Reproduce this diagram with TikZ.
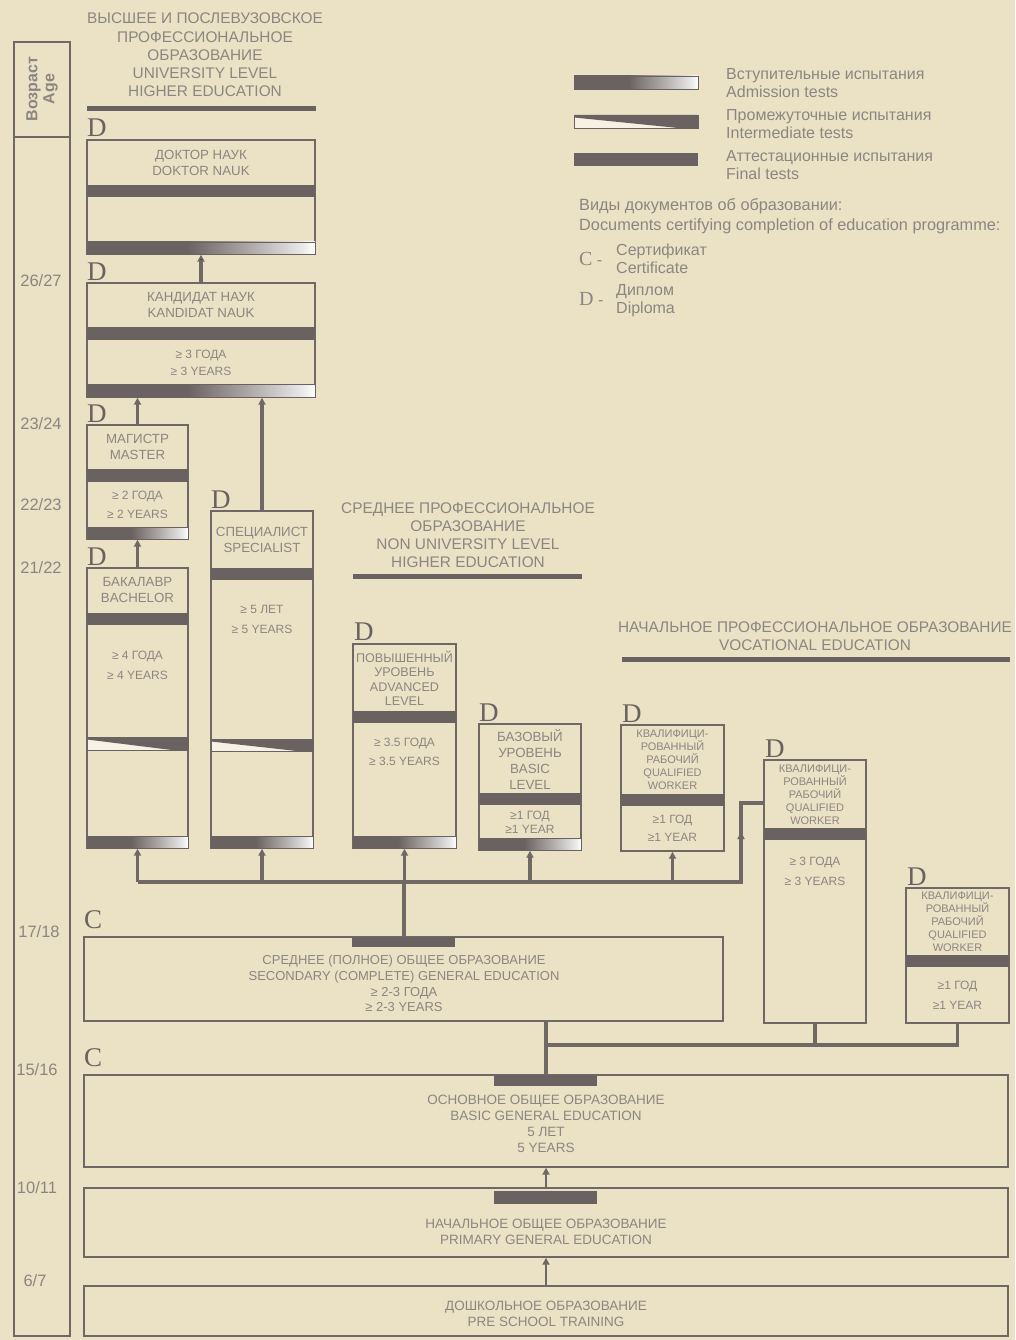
\documentclass[tikz,border=0pt]{standalone}
\usepackage{fontspec}
\setmainfont{Liberation Sans}
\newfontfamily\dipfont{Liberation Serif}
\usetikzlibrary{arrows.meta,calc}
\definecolor{bgc}{RGB}{235,225,196}
\definecolor{barc}{RGB}{106,98,96}
\definecolor{linec}{RGB}{112,104,100}
\definecolor{txtc}{RGB}{140,134,130}
\pgfdeclarehorizontalshading{admit}{100bp}{color(0bp)=(barc); color(25bp)=(barc); color(47bp)=(barc); color(62bp)=(barc!50!white); color(72bp)=(barc!15!white); color(75bp)=(white); color(100bp)=(white)}
% test bars
\newcommand{\finbar}[4]{\fill[barc] (#1,#2) rectangle (#3,#4);}
\newcommand{\admbar}[4]{\shade[shading=admit] (#1,#2) rectangle (#3,#4); \draw[barc,line width=0.8pt] (#1,#2) rectangle (#3,#4);}
\newcommand{\intbar}[4]{\fill[white!55!bgc] (#1,#2) rectangle (#3,#4); \fill[barc] (#1,#2) -- (#3,#2) -- (#3,#4) -- ({#1+0.84*(#3-#1)},#4) -- (#1,{#2+2.5}) -- cycle; \draw[barc,line width=0.8pt] (#1,#2) rectangle (#3,#4);}

\begin{document}
\begin{tikzpicture}[x=1pt, y=-1pt, >={Triangle[width=7pt,length=7pt]},
  box/.style={draw=linec, line width=1.4pt, inner sep=0pt},
  lbl/.style={text=txtc, align=center, inner sep=0pt},
  head/.style={lbl, font=\fontsize{15.4}{18.2}\selectfont},
  ttl/.style={lbl, font=\fontsize{13.3}{16}\selectfont},
  dur/.style={lbl, font=\fontsize{12}{19}\selectfont},
  qw/.style={lbl, font=\fontsize{11}{12.9}\selectfont},
  legend/.style={lbl, align=left, anchor=west, font=\fontsize{16}{18}\selectfont},
  dip/.style={text=barc, inner sep=0pt, anchor=base west, font=\dipfont\fontsize{27}{27}\selectfont},
  age/.style={lbl, font=\fontsize{16.5}{18}\selectfont},
  rule/.style={draw=barc, line width=5pt},
  link/.style={draw=linec, line width=3.2pt}]
\fill[bgc] (0,0) rectangle (1015,1340);
\useasboundingbox (0,0) rectangle (1015,1340);

% age column
\draw[linec, line width=1.2pt] (14,42) rectangle (70,1336);
\draw[linec, line width=1.2pt] (14,137) -- (70,137);
\draw (42,89) node[lbl, rotate=90, font=\bfseries\fontsize{16}{17}\selectfont] (agehd) {Возраст\\Age};
\draw (41,281) node[age] (a1) {26/27};
\draw (41,424) node[age] (a2) {23/24};
\draw (41,505) node[age] (a3) {22/23};
\draw (41,568) node[age] (a4) {21/22};
\draw (39,932) node[age] (a5) {17/18};
\draw (37,1070) node[age] (a6) {15/16};
\draw (37,1188) node[age] (a7) {10/11};
\draw (35,1281) node[age] (a8) {6/7};

% headings
\draw (205,55) node[head] (hiedu) {ВЫСШЕЕ И ПОСЛЕВУЗОВСКОЕ\\ПРОФЕССИОНАЛЬНОЕ\\ОБРАЗОВАНИЕ\\UNIVERSITY LEVEL\\HIGHER EDUCATION};
\draw[rule] (87,109) -- (316,109);
\draw (468,535) node[head] (nonuni) {СРЕДНЕЕ ПРОФЕССИОНАЛЬНОЕ\\ОБРАЗОВАНИЕ\\NON UNIVERSITY LEVEL\\HIGHER EDUCATION};
\draw[rule] (353,576) -- (582,576);
\draw (815,636) node[head] (voc) {НАЧАЛЬНОЕ ПРОФЕССИОНАЛЬНОЕ ОБРАЗОВАНИЕ\\VOCATIONAL EDUCATION};
\draw[rule] (622,659) -- (1010,659);

% legend
\admbar{574}{76}{698}{89}
\intbar{574}{115}{698}{128}
\finbar{574}{153}{698}{166}
\draw (726,83) node[legend] (lgadm) {Вступительные испытания\\Admission tests};
\draw (726,124) node[legend] (lgint) {Промежуточные испытания\\Intermediate tests};
\draw (726,165) node[legend] (lgfin) {Аттестационные испытания\\Final tests};
\draw (579,216) node[legend, font=\fontsize{16.3}{20}\selectfont] (lgdoc) {Виды документов об образовании:\\Documents certifying completion of education programme:};
\draw (579,259) node[legend] (lgC) {{\dipfont\fontsize{20}{20}\selectfont C} -};
\draw (616,259) node[legend] (lgCt) {Сертификат\\Certificate};
\draw (579,299) node[legend] (lgD) {{\dipfont\fontsize{20}{20}\selectfont D} -};
\draw (616,301) node[legend] (lgDt) {Диплом\\Diploma};

% university level
\draw (201,197) node[box, minimum width=228pt, minimum height=114pt] (doctor) {};
\draw (201,340) node[box, minimum width=228pt, minimum height=114pt] (kand) {};
\draw (137.5,482) node[box, minimum width=101pt, minimum height=114pt] (master) {};
\draw (137.5,708) node[box, minimum width=101pt, minimum height=280pt] (bachelor) {};
\draw (262,679.5) node[box, minimum width=102pt, minimum height=337pt] (spec) {};
\finbar{87}{185}{315}{197} \admbar{87}{242}{315}{254}
\finbar{87}{327}{315}{340} \admbar{87}{384}{315}{397}
\finbar{87}{469}{188}{482} \admbar{87}{527}{188}{539}
\finbar{87}{613}{188}{625} \intbar{87}{737}{188}{750} \admbar{87}{836}{188}{848}
\finbar{211}{568}{313}{580} \intbar{211}{739}{313}{751} \admbar{211}{836}{313}{848}
\draw (87,137) node[dip] (dDoc) {D};
\draw (87,280) node[dip] (dKand) {D};
\draw (87,422) node[dip] (dMas) {D};
\draw (87,565) node[dip] (dBach) {D};
\draw (211,508) node[dip] (dSpec) {D};
\draw (201,163) node[ttl] (doctorT) {ДОКТОР НАУК\\DOKTOR NAUK};
\draw (201,305) node[ttl] (kandT) {КАНДИДАТ НАУК\\KANDIDAT NAUK};
\draw (201,362.5) node[dur, font=\fontsize{12}{17}\selectfont] (kandY) {≥ 3 ГОДА\\≥ 3 YEARS};
\draw (137.5,447) node[ttl] (masterT) {МАГИСТР\\MASTER};
\draw (137.5,504.5) node[dur] (masterY) {≥ 2 ГОДА\\≥ 2 YEARS};
\draw (137.5,590) node[ttl] (bachT) {БАКАЛАВР\\BACHELOR};
\draw (137.5,665) node[dur, font=\fontsize{12}{20}\selectfont] (bachY) {≥ 4 ГОДА\\≥ 4 YEARS};
\draw (262,540) node[ttl] (specT) {СПЕЦИАЛИСТ\\SPECIALIST};
\draw (262,619) node[dur, font=\fontsize{12}{20}\selectfont] (specY) {≥ 5 ЛЕТ\\≥ 5 YEARS};

% non university level
\draw (404.5,746) node[box, minimum width=103pt, minimum height=204pt] (adv) {};
\draw (530,787) node[box, minimum width=102pt, minimum height=126pt] (basic) {};
\finbar{353}{711}{456}{723} \admbar{353}{836}{456}{848}
\finbar{479}{793}{581}{805} \admbar{479}{838}{581}{850}
\draw (354,640) node[dip] (dAdv) {D};
\draw (479,721) node[dip] (dBas) {D};
\draw (404.5,678.5) node[ttl, font=\fontsize{12.6}{14.5}\selectfont] (advT) {ПОВЫШЕННЫЙ\\УРОВЕНЬ\\ADVANCED\\LEVEL};
\draw (404.5,751.5) node[dur] (advY) {≥ 3.5 ГОДА\\≥ 3.5 YEARS};
\draw (530,759) node[ttl] (basicT) {БАЗОВЫЙ\\УРОВЕНЬ\\BASIC\\LEVEL};
\draw (530,822) node[dur, font=\fontsize{12}{14}\selectfont] (basicY) {≥1 ГОД\\≥1 YEAR};

% vocational
\draw (672.5,788) node[box, minimum width=103pt, minimum height=126pt] (qwA) {};
\draw (815,891.5) node[box, minimum width=102pt, minimum height=263pt] (qwB) {};
\draw (957.5,955.5) node[box, minimum width=103pt, minimum height=135pt] (qwC) {};
\finbar{621}{794}{724}{806}
\finbar{764}{828}{866}{840}
\finbar{906}{955}{1009}{967}
\draw (622,722) node[dip] (dQwA) {D};
\draw (765,757) node[dip] (dQwB) {D};
\draw (907,885) node[dip] (dQwC) {D};
\draw (672.5,759.5) node[qw] (qwAT) {КВАЛИФИЦИ-\\РОВАННЫЙ\\РАБОЧИЙ\\QUALIFIED\\WORKER};
\draw (672.5,828) node[dur, font=\fontsize{12}{18}\selectfont] (qwAY) {≥1 ГОД\\≥1 YEAR};
\draw (815,795) node[qw] (qwBT) {КВАЛИФИЦИ-\\РОВАННЫЙ\\РАБОЧИЙ\\QUALIFIED\\WORKER};
\draw (815,871) node[dur, font=\fontsize{12}{20}\selectfont] (qwBY) {≥ 3 ГОДА\\≥ 3 YEARS};
\draw (957.5,922) node[qw] (qwCT) {КВАЛИФИЦИ-\\РОВАННЫЙ\\РАБОЧИЙ\\QUALIFIED\\WORKER};
\draw (957.5,995) node[dur, font=\fontsize{12}{20}\selectfont] (qwCY) {≥1 ГОД\\≥1 YEAR};

% general education
\draw (403.5,979) node[box, minimum width=639pt, minimum height=84pt] (second) {};
\draw (546,1121) node[box, minimum width=924pt, minimum height=92pt] (basgen) {};
\draw (546,1222.5) node[box, minimum width=924pt, minimum height=69pt] (primary) {};
\draw (546,1311) node[box, minimum width=924pt, minimum height=50pt] (presch) {};
\finbar{352}{937}{455}{947}
\finbar{494}{1075}{597}{1086}
\finbar{494}{1191}{597}{1204}
\draw (84,928) node[dip] (cSec) {C};
\draw (84,1066) node[dip] (cBas) {C};
\draw (404,983.5) node[ttl, font=\fontsize{13}{15.7}\selectfont] (secondT) {СРЕДНЕЕ (ПОЛНОЕ) ОБЩЕЕ ОБРАЗОВАНИЕ\\SECONDARY (COMPLETE) GENERAL EDUCATION\\≥ 2-3 ГОДА\\≥ 2-3 YEARS};
\draw (546,1124) node[ttl, font=\fontsize{13.5}{16}\selectfont] (basgenT) {ОСНОВНОЕ ОБЩЕЕ ОБРАЗОВАНИЕ\\BASIC GENERAL EDUCATION\\5 ЛЕТ\\5 YEARS};
\draw (546,1232) node[ttl, font=\fontsize{13.5}{16}\selectfont] (primaryT) {НАЧАЛЬНОЕ ОБЩЕЕ ОБРАЗОВАНИЕ\\PRIMARY GENERAL EDUCATION};
\draw (546,1314) node[ttl, font=\fontsize{13.5}{16}\selectfont] (preschT) {ДОШКОЛЬНОЕ ОБРАЗОВАНИЕ\\PRE SCHOOL TRAINING};

% connectors
\coordinate (bus) at (404,882);
\coordinate (busE) at (741,882);
\coordinate (qwIn) at (764,803);
\coordinate (jn) at (546,1045);
\path[link,->] (kand) edge (doctor);
\draw[link,->] (master.north) -- (master.north |- kand.south);
\draw[link,->] (spec.north) -- (spec.north |- kand.south);
\draw[link,->] (bachelor.north) -- (master.south);
\draw[link] (bachelor.south |- bus) -- (busE) -- (busE |- qwIn) -- (qwIn);
\draw[link,->] (busE) -- ++(0,-50);
\draw[link,->] (bachelor.south |- bus) -- (bachelor.south);
\draw[link,->] (spec.south |- bus) -- (spec.south);
\draw[link,->] (adv.south |- bus) -- (adv.south);
\draw[link,->] (basic.south |- bus) -- (basic.south);
\draw[link,->] (qwA.south |- bus) -- (qwA.south);
\draw[link] (bus) -- (bus |- second.north);
\draw[link] (jn |- second.south) -- (basgen.north);
\draw[link] (jn) -- (jn -| qwC.south) -- (qwC.south);
\draw[link] (qwB.south) -- (qwB.south |- jn);
\draw[link,->, line width=2.4pt] (primary.north) -- (basgen.south);
\draw[link,->, line width=2.4pt] (presch.north) -- (primary.south);
\end{tikzpicture}
\end{document}
